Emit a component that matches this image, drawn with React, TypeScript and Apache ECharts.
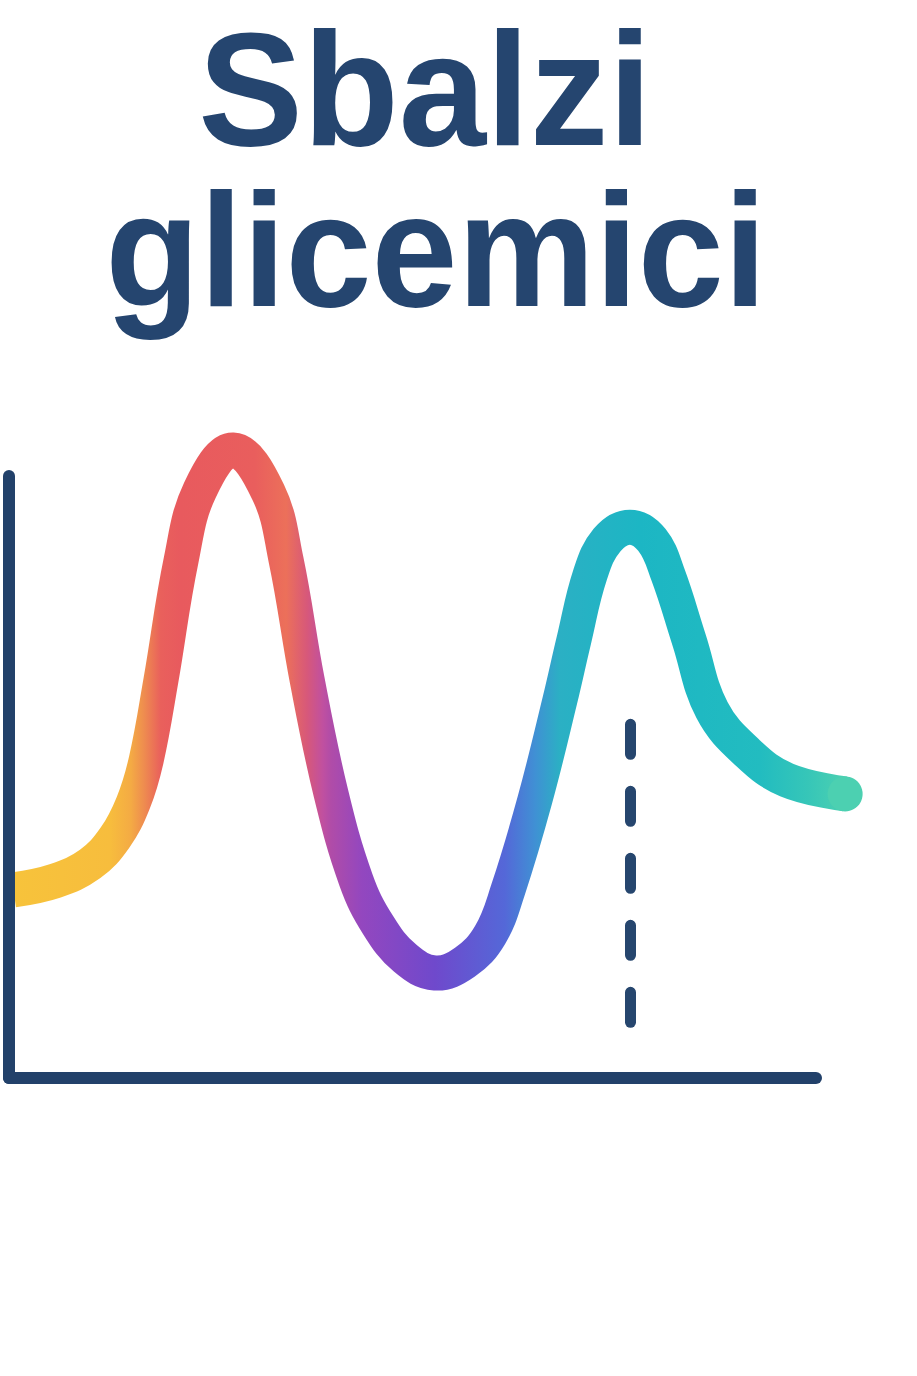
import { useEffect, useRef } from 'react';
import * as echarts from 'echarts';

// titolo
const titleLines = ['Sbalzi', 'glicemici'];

// curva glicemica: minuti dal pasto / glicemia (mg/dL)
const minutes = [1, 10.3, 18.1, 23.6, 27.7, 30.6, 33.9, 38.4, 42.6, 50, 57.8, 61.8, 66.5, 71.8, 77.4, 82.3, 88.3, 95, 101.7, 107.3, 111.3, 117.3, 122.9, 126, 129.6, 133.4, 138.5, 143.4, 147, 151.7, 156.8, 164.8, 173.5, 186.5];
const glucose = [90, 92.4, 96.9, 103.8, 113.1, 124.5, 145.8, 177.7, 196.3, 206.9, 195.7, 177.7, 145.8, 115.7, 92.6, 80.7, 71.9, 67.9, 70.8, 78, 90, 113.9, 140.5, 156.4, 173.7, 183, 186.4, 183, 173.7, 156.4, 137.8, 126.4, 119.2, 115.5];

// linea tratteggiata sotto il secondo picco
const markerMinute = 138.6;
const markerRange = [134, 54.8];

const navy = '#22416a';
const titleColor = '#25456f';
const endColor = '#4cd0b1';

export default function App() {
    const chartRef = useRef<HTMLDivElement>(null);

    useEffect(() => {
        if (!chartRef.current) return;
        const chart = echarts.init(chartRef.current, null, { renderer: 'svg' });

        const gradient = new echarts.graphic.LinearGradient(0, 0, 1, 0, [
            { offset: 0, color: '#f7c33b' },
            { offset: 0.116, color: '#f7bd3d' },
            { offset: 0.141, color: '#f4ab44' },
            { offset: 0.158, color: '#ee8a50' },
            { offset: 0.177, color: '#e9605c' },
            { offset: 0.201, color: '#e85a5e' },
            { offset: 0.29, color: '#e95e5d' },
            { offset: 0.328, color: '#ec705a' },
            { offset: 0.353, color: '#d7587a' },
            { offset: 0.372, color: '#c050a0' },
            { offset: 0.382, color: '#b04ca8' },
            { offset: 0.419, color: '#9347bf' },
            { offset: 0.507, color: '#6f49cc' },
            { offset: 0.591, color: '#5468d8' },
            { offset: 0.627, color: '#4090d4' },
            { offset: 0.657, color: '#2bb0c4' },
            { offset: 0.753, color: '#1cb6c4' },
            { offset: 0.898, color: '#22bcc0' },
            { offset: 0.955, color: '#36c6b8' },
            { offset: 1, color: endColor }
        ]);

        const axisLineStyle = { color: navy, width: 12, cap: 'round' as const };
        const titleFont = 'bold 161px "Liberation Sans", Arial, sans-serif';

        chart.setOption({
            animation: false,
            backgroundColor: '#ffffff',
            graphic: [
                {
                    type: 'text', x: 425, y: 89, scaleX: 0.975,
                    style: {
                        text: titleLines[0], fill: titleColor, align: 'center', verticalAlign: 'middle',
                        font: titleFont
                    }
                },
                {
                    type: 'text', x: 436, y: 250, scaleX: 0.96,
                    style: {
                        text: titleLines[1], fill: titleColor, align: 'center', verticalAlign: 'middle',
                        font: titleFont
                    }
                }
            ],
            grid: { left: 9, top: 476, width: 807, height: 602, containLabel: false },
            xAxis: {
                type: 'value', min: 0, max: 180, z: 5,
                axisLine: { show: true, onZero: false, lineStyle: axisLineStyle },
                axisTick: { show: false }, axisLabel: { show: false }, splitLine: { show: false }
            },
            yAxis: {
                type: 'value', min: 40, max: 200, z: 5,
                axisLine: { show: true, onZero: false, lineStyle: axisLineStyle },
                axisTick: { show: false }, axisLabel: { show: false }, splitLine: { show: false }
            },
            series: [
                {
                    // curva liscia disegnata una volta sola con i punti convertiti dagli assi
                    type: 'custom',
                    data: minutes.map((m, i) => [m, glucose[i]]),
                    encode: { x: 0, y: 1 },
                    silent: true,
                    renderItem: (params: any, api: any) => {
                        if (params.dataIndex !== 0) return null;
                        const pts = minutes.map((m, i) => api.coord([m, glucose[i]]));
                        const end = pts[pts.length - 1];
                        return {
                            type: 'group',
                            children: [
                                {
                                    type: 'polyline',
                                    shape: { points: pts, smooth: 0.4 },
                                    style: { fill: 'none', stroke: gradient, lineWidth: 35, lineCap: 'butt', lineJoin: 'round' }
                                },
                                {
                                    type: 'circle',
                                    shape: { cx: end[0], cy: end[1], r: 17.5 },
                                    style: { fill: endColor }
                                }
                            ]
                        };
                    }
                },
                {
                    type: 'line',
                    data: [],
                    markLine: {
                        silent: true,
                        symbol: 'none',
                        label: { show: false },
                        lineStyle: { color: '#26466e', width: 11, type: [30, 37], cap: 'round' },
                        data: [[
                            { coord: [markerMinute, markerRange[0]] },
                            { coord: [markerMinute, markerRange[1]] }
                        ]]
                    }
                }
            ]
        });

        return () => chart.dispose();
    }, []);

    return (
        <div
            ref={chartRef}
            style={{ position: 'fixed', left: 0, top: 0, width: '917px', height: '1376px' }}
        />
    );
}
